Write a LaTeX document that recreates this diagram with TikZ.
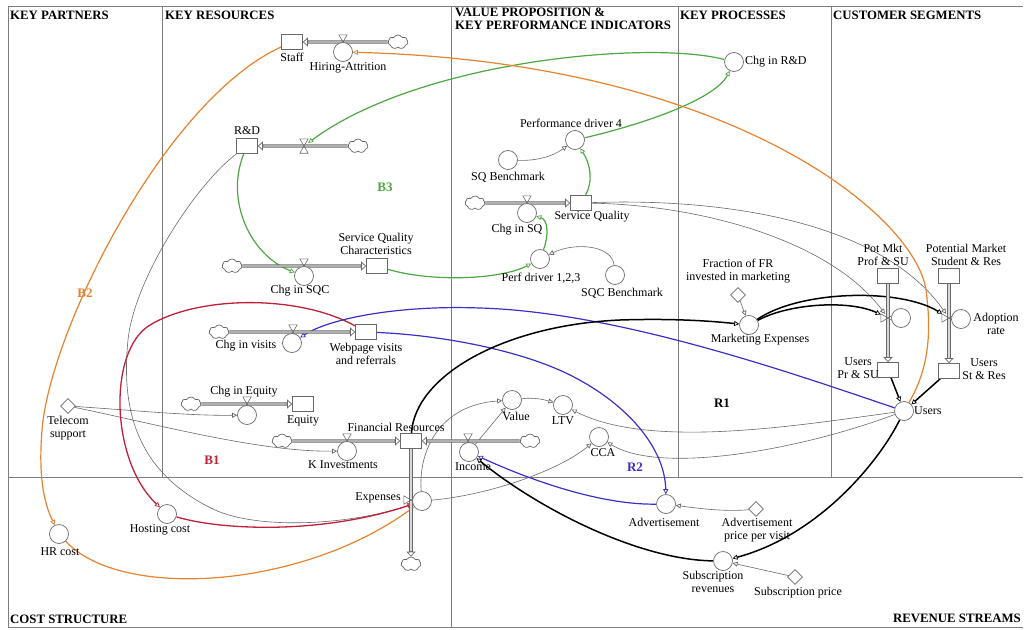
\documentclass[tikz,border=0pt]{standalone}
\usepackage{fontspec}
\setmainfont{Liberation Serif}
\usetikzlibrary{arrows.meta,shapes.geometric,shapes.symbols}
\pgfdeclarelayer{bg}
\pgfsetlayers{bg,main}

\definecolor{frameg}{RGB}{125,125,125}
\definecolor{lineg}{RGB}{105,105,105}
\definecolor{pipefill}{RGB}{215,215,215}
\definecolor{loopgreen}{RGB}{76,168,64}
\definecolor{looporange}{RGB}{232,130,46}
\definecolor{loopred}{RGB}{192,32,56}
\definecolor{loopblue}{RGB}{58,48,200}

\tikzset{
  lbl/.style={font=\fontsize{12}{13}\selectfont, inner sep=0pt, align=center},
  hdr/.style={font=\bfseries\fontsize{12.8}{13}\selectfont, inner sep=0pt, align=left},
  looplbl/.style={font=\bfseries\fontsize{13}{14}\selectfont, inner sep=0pt},
  stock/.style={draw=lineg, fill=white, line width=0.7pt, minimum width=21pt, minimum height=15pt, inner sep=0pt},
  conv/.style={circle, draw=lineg, fill=white, line width=0.7pt, minimum size=19pt, inner sep=0pt},
  const/.style={diamond, draw=lineg, fill=white, line width=0.7pt, minimum size=15pt, inner sep=0pt},
  sink/.style={cloud, cloud puffs=7, cloud puff arc=120, aspect=1.5, draw=lineg, fill=white, line width=0.7pt, minimum width=20pt, minimum height=14pt, inner sep=0pt},
  valveh/.style={minimum width=8pt, minimum height=14pt, inner sep=0pt},
  valvev/.style={minimum width=14pt, minimum height=8pt, inner sep=0pt},
  arrowend/.style={-{Triangle[open,length=5pt,width=5pt,line width=0.7pt]}},
  conn/.style={draw=lineg, line width=0.6pt, arrowend},
  greenc/.style={draw=loopgreen, line width=1.2pt, arrowend},
  orangec/.style={draw=looporange, line width=1.2pt, arrowend},
  redc/.style={draw=loopred, line width=1.3pt, arrowend},
  bluec/.style={draw=loopblue, line width=1.2pt, arrowend},
  blackc/.style={draw=black, line width=1.5pt, arrowend},
}

% a material flow: double pipe ending in an open arrow head
\newcommand{\flowpipe}[2]{%
  \draw[lineg, line width=3.2pt, -{Triangle[open,length=5pt,width=9pt,line width=0.7pt]}] (#1) -- (#2);
  \draw[pipefill, line width=1.4pt, shorten >=5.5pt] (#1) -- (#2);}

\begin{document}
\begin{tikzpicture}[x=1pt,y=-1pt]
\useasboundingbox (0,0) rectangle (1024,629);

% ---------- stocks ----------
\node[stock] (staff)   at (292,42)  {};
\node[stock] (rd)      at (247,146) {};
\node[stock] (sqc)     at (377,266) {};
\node[stock] (sq)      at (581,203) {};
\node[stock] (web)     at (366,332) {};
\node[stock] (equity)  at (303,404) {};
\node[stock] (fr)      at (411,441) {};
\node[stock] (potprof) at (888,276) {};
\node[stock] (potstu)  at (949,276) {};
\node[stock] (usrpr)   at (888,370) {};
\node[stock] (usrst)   at (949,371) {};

% ---------- sources and sinks ----------
\node[sink] (clstaff)  at (398,42)  {};
\node[sink] (clrd)     at (358,146) {};
\node[sink] (clsqc)    at (232,266) {};
\node[sink] (clsq)     at (475,203) {};
\node[sink] (clvisit)  at (219,332) {};
\node[sink] (clequity) at (191,404) {};
\node[sink] (clkinv)   at (282,441) {};
\node[sink] (clincome) at (530,441) {};
\node[sink] (clexp)    at (411,564) {};

% ---------- valves ----------
\node[valveh] (vstaff)  at (343,42)  {};
\node[valveh] (vrd)     at (304,146) {};
\node[valveh] (vsqc)    at (304,266) {};
\node[valveh] (vsq)     at (527,203) {};
\node[valveh] (vvisit)  at (293,332) {};
\node[valveh] (vequity) at (247,404) {};
\node[valveh] (vkinv)   at (347,441) {};
\node[valveh] (vincome) at (468,441) {};
\node[valvev] (vexp)    at (411,500) {};
\node[valvev] (vprof)   at (888,318) {};
\node[valvev] (vstu)    at (949,318) {};
\foreach \v in {vstaff,vrd,vsqc,vsq,vvisit,vequity,vkinv,vincome}
  \draw[lineg, line width=0.6pt] (\v.north west) -- (\v.north east) -- (\v.south west) -- (\v.south east) -- cycle;
\foreach \v in {vexp,vprof,vstu}
  \draw[lineg, line width=0.6pt] (\v.north west) -- (\v.south west) -- (\v.north east) -- (\v.south east) -- cycle;

% ---------- rates ----------
\node[conv] (hiring)    at (343,52)  {};
\node[conv] (chgsqc)    at (304,276) {};
\node[conv] (chgsq)     at (527,213) {};
\node[conv] (chgvisit)  at (292,343) {};
\node[conv] (chgequity) at (247,415) {};
\node[conv] (kinv)      at (347,451) {};
\node[conv] (income)    at (469,452) {};
\node[conv] (expenses)  at (422,501) {};
\node[conv] (adoptprof) at (901,318) {};
\node[conv] (adoption)  at (961,319) {};

% ---------- auxiliaries ----------
\node[conv] (chgrd)    at (734,62)  {};
\node[conv] (pd4)      at (575,140) {};
\node[conv] (sqbench)  at (508,160) {};
\node[conv] (pd123)    at (540,259) {};
\node[conv] (sqcbench) at (615,275) {};
\node[conv] (mktexp)   at (749,325) {};
\node[conv] (users)    at (904,411) {};
\node[conv] (value)    at (512,400) {};
\node[conv] (ltv)      at (563,405) {};
\node[conv] (cca)      at (599,437) {};
\node[conv] (hrcost)   at (59,534)  {};
\node[conv] (hosting)  at (167,514) {};
\node[conv] (advert)   at (666,504) {};
\node[conv] (subrev)   at (723,561) {};

% ---------- constants ----------
\node[const] (telecom)  at (68,406)  {};
\node[const] (fracfr)   at (738,295) {};
\node[const] (advprice) at (756,509) {};
\node[const] (subprice) at (795,577) {};

% ---------- variable names ----------
\node[lbl] (staffl) at (292,57) {Staff};
\node[lbl] (hiringl) at (348,68) {Hiring-Attrition};
\node[lbl] (rdl) at (247,131) {R\&D};
\node[lbl,anchor=west] (chgrdl) at (745,62) {Chg in R\&D};
\node[lbl] (pd4l) at (571,123) {Performance driver 4};
\node[lbl] (sqbenchl) at (508,177) {SQ Benchmark};
\node[lbl] (sql) at (592,217) {Service Quality};
\node[lbl] (chgsql) at (517,230) {Chg in SQ};
\node[lbl] (sqcl) at (376,243.5) {Service Quality\\Characteristics};
\node[lbl] (chgsqcl) at (300,291) {Chg in SQC};
\node[lbl] (pd123l) at (541,278) {Perf driver 1,2,3};
\node[lbl] (sqcbenchl) at (622,293) {SQC Benchmark};
\node[lbl] (fracfrl) at (738,271) {Fraction of FR\\invested in marketing};
\node[lbl] (potprofl) at (883,255) {Pot Mkt\\Prof \& SU};
\node[lbl] (potstul) at (966,255) {Potential Market\\Student \& Res};
\node[lbl] (adoptionl) at (996,323.5) {Adoption\\rate};
\node[lbl] (mktexpl) at (760,340) {Marketing Expenses};
\node[lbl,anchor=east] (usrprl) at (879,368.5) {Users\\Pr \& SU};
\node[lbl] (usrstl) at (984,369) {Users\\St \& Res};
\node[lbl,anchor=west] (usersl) at (914,411) {Users};
\node[lbl] (chgvisitl) at (246,346) {Chg in visits};
\node[lbl] (webl) at (366,353.5) {Webpage visits\\and referrals};
\node[lbl] (chgequityl) at (244,392) {Chg in Equity};
\node[lbl] (equityl) at (303,421) {Equity};
\node[lbl] (telecoml) at (68,428) {Telecom\\support};
\node[lbl] (frl) at (396,427) {Financial Resources};
\node[lbl] (kinvl) at (343,465) {K Investments};
\node[lbl] (incomel) at (473,467) {Income};
\node[lbl] (valuel) at (516,416) {Value};
\node[lbl] (ltvl) at (563,421) {LTV};
\node[lbl] (ccal) at (603,453) {CCA};
\node[lbl] (expensesl) at (378,498) {Expenses};
\node[lbl] (hrcostl) at (60,552) {HR cost};
\node[lbl] (hostingl) at (160,530) {Hosting cost};
\node[lbl] (advertl) at (664,522) {Advertisement};
\node[lbl] (advpricel) at (757,530) {Advertisement\\price per visit};
\node[lbl] (subrevl) at (713,582) {Subscription\\revenues};
\node[lbl] (subpricel) at (798,593) {Subscription price};

% ---------- loop markers ----------
\node[looplbl, text=loopred] (b1) at (212,460) {B1};
\node[looplbl, text=looporange] (b2) at (85,293) {B2};
\node[looplbl, text=loopgreen] (b3) at (385,187) {B3};
\node[looplbl] (r1) at (722,403) {R1};
\node[looplbl, text=loopblue] (r2) at (635,467) {R2};

% ---------- canvas headings ----------
\node[hdr,anchor=west] (hkp) at (10,15) {KEY PARTNERS};
\node[hdr,anchor=west] (hkr) at (165,15) {KEY RESOURCES};
\node[hdr,anchor=north west] (hvp) at (455,8) {VALUE PROPOSITION \&\\KEY PERFORMANCE INDICATORS};
\node[hdr,anchor=west] (hkpr) at (680,15) {KEY PROCESSES};
\node[hdr,anchor=west] (hcs) at (833,15) {CUSTOMER SEGMENTS};
\node[hdr,anchor=west] (hcost) at (10,619) {COST STRUCTURE};
\node[hdr,anchor=east] (hrev) at (1021,618) {REVENUE STREAMS};

\begin{pgfonlayer}{bg}
% canvas grid
\draw[frameg, line width=0.9pt] (1023,6) -- (8,6) -- (8,627) -- (1023,627);
\draw[frameg, line width=0.9pt] (8,477) -- (1023,477);
\draw[frameg, line width=0.9pt] (162,6) -- (162,477);
\draw[frameg, line width=0.9pt] (451,6) -- (451,627);
\draw[frameg, line width=0.9pt] (678,6) -- (678,477);
\draw[frameg, line width=0.9pt] (831,6) -- (831,477);

% information links
\draw[conn] (sqbench) .. controls (535,161) and (552,157) .. (pd4);
\draw[conn] (sqcbench) .. controls (612,245) and (575,242) .. (pd123);
\draw[conn] (telecom) .. controls (130,410) and (190,416) .. (chgequity);
\draw[conn] (telecom) .. controls (160,425) and (260,452) .. (kinv);
\draw[conn] (rd) .. controls (195,185) and (134,280) .. (128,340) .. controls (122,400) and (130,470) .. (215,510) .. controls (260,530) and (350,525) .. (expenses);
\draw[conn] (expenses) .. controls (418,450) and (440,405) .. (value);
\draw[conn] (income) -- (value);
\draw[conn] (value) .. controls (535,397) and (545,400) .. (ltv);
\draw[conn] (expenses) .. controls (490,495) and (560,470) .. (cca);
\draw[conn] (users) .. controls (800,425) and (650,450) .. (ltv);
\draw[conn] (users) .. controls (800,450) and (660,475) .. (cca);
\draw[conn] (sq) .. controls (700,205) and (830,240) .. (vprof);
\draw[conn] (sq) .. controls (720,198) and (880,220) .. (vstu);
\draw[conn] (fracfr) -- (mktexp);
\draw[conn] (advprice) .. controls (725,512) and (695,508) .. (advert);
\draw[conn] (subprice) -- (subrev);

% loop B3
\draw[greenc] (chgrd) .. controls (650,40) and (420,60) .. (vrd);
\draw[greenc] (pd4) .. controls (640,125) and (715,100) .. (chgrd);
\draw[greenc] (sq) .. controls (593,182) and (591,165) .. (pd4);
\draw[greenc] (pd123) .. controls (549,235) and (548,220) .. (chgsq);
\draw[greenc] (sqc) .. controls (430,282) and (500,280) .. (pd123);
\draw[greenc] (rd) .. controls (225,200) and (250,255) .. (chgsqc);

% loop B2
\draw[orangec] (staff) .. controls (165,100) and (50,330) .. (42,430) .. controls (38,480) and (45,505) .. (hrcost);
\draw[orangec] (hrcost) .. controls (120,600) and (300,590) .. (expenses);
\draw[orangec] (users) .. controls (928,370) and (932,335) .. (926,290) .. controls (915,215) and (730,62) .. (hiring);

% loop B1
\draw[redc] (web) .. controls (300,295) and (200,295) .. (150,325) .. controls (108,350) and (110,460) .. (hosting);
\draw[redc] (hosting) .. controls (220,530) and (320,535) .. (expenses);

% loop R2
\draw[bluec] (users) .. controls (800,376) and (620,312) .. (480,308) .. controls (400,305) and (330,318) .. (chgvisit);
\draw[bluec] (web) .. controls (440,335) and (520,350) .. (570,375) .. controls (630,405) and (665,450) .. (advert);
\draw[bluec] (advert) .. controls (600,505) and (530,480) .. (income);

% loop R1
\draw[blackc] (fr) .. controls (415,375) and (505,325) .. (620,320) .. controls (680,318) and (720,322) .. (mktexp);
\draw[blackc] (mktexp) .. controls (790,303) and (850,300) .. (vprof);
\draw[blackc] (mktexp) .. controls (800,290) and (900,288) .. (vstu);
\draw[blackc] (usrpr) -- (users);
\draw[blackc] (usrst) -- (users);
\draw[blackc] (users) .. controls (880,460) and (820,535) .. (subrev);
\draw[blackc] (subrev) .. controls (640,560) and (540,510) .. (income);

% material flows
\flowpipe{clstaff}{staff}
\flowpipe{clrd}{rd}
\flowpipe{clsqc}{sqc}
\flowpipe{clsq}{sq}
\flowpipe{clvisit}{web}
\flowpipe{clequity}{equity}
\flowpipe{clkinv}{fr}
\flowpipe{clincome}{fr}
\flowpipe{fr}{clexp}
\flowpipe{potprof}{usrpr}
\flowpipe{potstu}{usrst}
\end{pgfonlayer}
\end{tikzpicture}
\end{document}
